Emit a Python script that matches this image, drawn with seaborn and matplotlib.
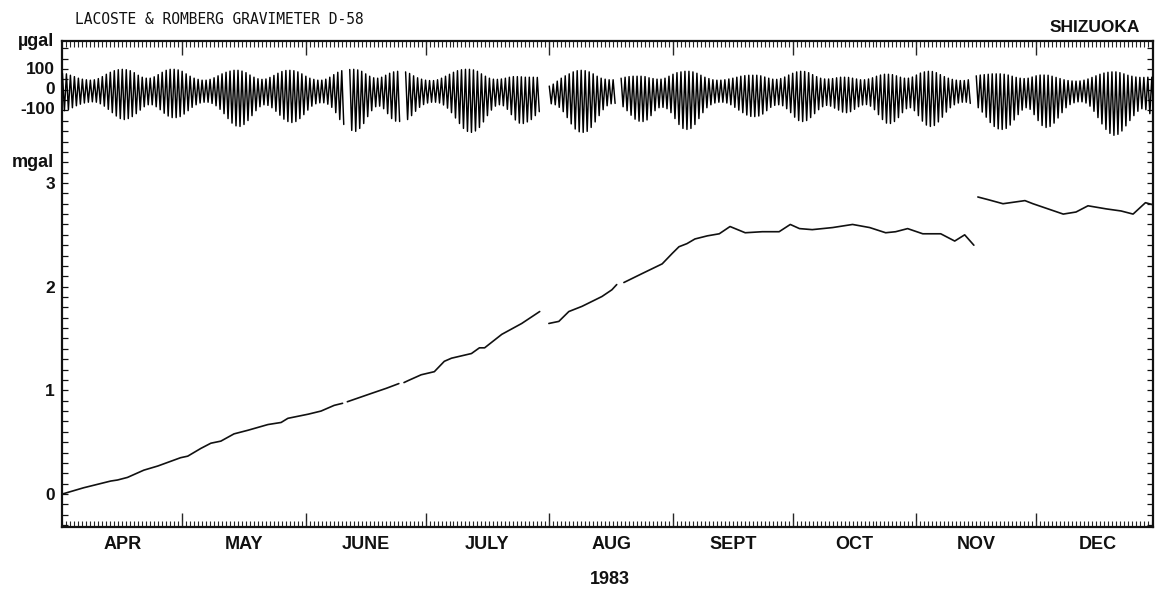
import numpy as np
import pandas as pd
import matplotlib
matplotlib.use("Agg")
import matplotlib.pyplot as plt
import matplotlib.transforms as mtransforms
import seaborn as sns

nan = np.nan

# months on the x axis (day 0 = 1 April 1983)
months = ["APR", "MAY", "JUNE", "JULY", "AUG", "SEPT", "OCT", "NOV", "DEC"]
month_len = [30, 31, 30, 31, 31, 30, 31, 30, 31]

# gravity drift curve (mgal), nan = break in the record
curve_day = [0, 5.3, 12.1, 13.8, 16.3, 20.4, 23.9, 29.6, 31.4, 34.7, 37.2, 39.7, 43.0, 46.5,
             51.5, 54.8, 56.5, 61.6, 64.8, 68.1, 70.2, nan, 71.4, 77.4, 81.2, 84.3, nan,
             85.6, 86.7, 89.9, 93.2, 95.7, 97.5, 102.5, 104.5, 105.8, 110.1, 115.1, 119.6, nan,
             121.9, 124.4, 126.9, 130.2, 135.2, 137.7, 138.9, nan,
             140.7, 145.2, 150.3, 152.8, 154.5, 156.5, 158.5, 161.6, 164.6, 167.3, 171.1, 175.4,
             179.6, 182.4, 184.7, 187.9, 193.0, 198.0, 202.3, 206.3, 208.8, 211.8, 215.6, 220.1,
             223.6, 226.1, 228.4, nan,
             229.4, 231.9, 235.7, 241.2, 243.2, 247.0, 250.8, 254.0, 257.0, 261.6, 265.3, 268.3,
             271.4, 273.3]
curve_mgal = [0.0, 0.06, 0.125, 0.135, 0.16, 0.23, 0.27, 0.35, 0.365, 0.44, 0.49, 0.51, 0.58, 0.615,
              0.67, 0.69, 0.73, 0.77, 0.80, 0.855, 0.875, nan, 0.89, 0.97, 1.02, 1.065, nan,
              1.075, 1.095, 1.15, 1.18, 1.28, 1.31, 1.355, 1.41, 1.41, 1.54, 1.645, 1.76, nan,
              1.645, 1.665, 1.76, 1.81, 1.905, 1.97, 2.02, nan,
              2.04, 2.125, 2.22, 2.32, 2.385, 2.415, 2.46, 2.49, 2.51, 2.58, 2.52, 2.53,
              2.53, 2.60, 2.56, 2.55, 2.57, 2.60, 2.57, 2.52, 2.53, 2.56, 2.51, 2.51,
              2.44, 2.50, 2.40, nan,
              2.865, 2.84, 2.80, 2.83, 2.80, 2.75, 2.70, 2.72, 2.78, 2.75, 2.73, 2.70,
              2.81, 2.79]

# daily tidal envelope (ugal), one value per day from 1 April
tide_upper = [75, 72, 65, 58, 50, 45, 42, 40, 42, 48,
              58, 70, 80, 88, 93, 95, 93, 88, 78, 65,
              55, 50, 50, 57, 68, 80, 90, 95, 95, 92,
              85, 72, 60, 50, 44, 40, 40, 44, 52, 62,
              72, 80, 86, 90, 90, 86, 78, 66, 55, 47,
              44, 46, 54, 64, 75, 84, 89, 90, 88, 82,
              72, 60, 50, 44, 40, 40, 45, 55, 68, 80,
              88, nan, 94, 95, 92, 85, 72, 60, 52, 50,
              55, 65, 75, 82, 85, nan, 82, 74, 62, 52,
              45, 40, 38, 38, 42, 50, 60, 70, 80, 88,
              93, 95, 95, 92, 85, 72, 60, 50, 45, 44,
              46, 50, 55, 58, 58, 57, 55, 55, 55, 54,
              nan, nan, 10, 20, 35, 50, 62, 72, 82, 88,
              90, 88, 82, 72, 60, 50, 45, 42, 42, nan,
              50, 55, 58, 60, 60, 60, 58, 52, 48, 45,
              45, 50, 60, 70, 78, 82, 85, 85, 82, 75,
              65, 55, 48, 42, 40, 40, 42, 46, 50, 55,
              60, 63, 65, 65, 65, 62, 56, 50, 45, 44,
              48, 56, 66, 75, 82, 85, 84, 78, 68, 58,
              50, 46, 46, 48, 52, 55, 55, 54, 50, 46,
              42, 42, 46, 52, 60, 66, 70, 70, 68, 62,
              55, 50, 50, 56, 66, 76, 82, 85, 84, 78,
              68, 58, 50, 44, 40, 38, 38, 42, nan, 62,
              66, 68, 70, 72, 72, 72, 70, 66, 60, 54,
              50, 48, 50, 56, 62, 66, 66, 65, 60, 54,
              48, 42, 38, 36, 35, 36, 40, 46, 54, 62,
              70, 76, 80, 82, 82, 78, 72, 65, 60, 56,
              54, 54, 55, 55]
tide_lower = [-115, -110, -100, -90, -82, -76, -72, -70, -72, -80,
              -92, -108, -125, -142, -155, -160, -155, -145, -130, -112,
              -95, -85, -85, -95, -110, -128, -142, -150, -150, -145,
              -132, -115, -98, -85, -76, -72, -72, -78, -90, -108,
              -130, -155, -178, -192, -195, -185, -165, -140, -115, -95,
              -85, -88, -100, -118, -138, -158, -170, -175, -170, -155,
              -135, -112, -92, -80, -75, -75, -82, -98, -125, -160,
              -185, nan, -215, -220, -205, -180, -145, -115, -95, -92,
              -105, -130, -155, -168, -170, nan, -160, -140, -118, -98,
              -84, -76, -72, -72, -76, -86, -102, -125, -152, -180,
              -205, -220, -225, -218, -200, -172, -140, -112, -92, -85,
              -90, -108, -135, -162, -178, -180, -172, -160, -140, -120,
              nan, nan, -80, -85, -98, -120, -150, -182, -208, -222,
              -225, -220, -200, -172, -140, -110, -90, -80, -78, nan,
              -95, -115, -138, -158, -168, -170, -162, -140, -115, -100,
              -98, -105, -125, -155, -185, -205, -210, -205, -185, -155,
              -125, -100, -85, -76, -72, -72, -76, -85, -98, -112,
              -125, -137, -144, -145, -142, -132, -115, -98, -88, -85,
              -90, -105, -125, -148, -165, -170, -165, -150, -130, -110,
              -95, -88, -92, -102, -112, -122, -125, -120, -108, -95,
              -86, -84, -92, -110, -135, -160, -178, -180, -170, -150,
              -125, -105, -100, -115, -140, -168, -188, -195, -190, -172,
              -148, -122, -100, -85, -76, -72, -72, -78, nan, -100,
              -122, -148, -175, -195, -207, -210, -205, -188, -162, -135,
              -112, -100, -108, -135, -165, -190, -200, -195, -178, -152,
              -125, -100, -84, -75, -70, -70, -76, -92, -118, -150,
              -182, -210, -230, -240, -235, -218, -192, -165, -140, -118,
              -105, -110, -130, -150]

sns.set_style("ticks")
plt.rcParams["font.family"] = ["Liberation Sans", "DejaVu Sans"]
ink = "#111111"

fig = plt.figure(figsize=(11.55, 5.97), dpi=100)
ax = fig.add_axes([0.0537, 0.1173, 0.9446, 0.8141])

# drift curve
curve = pd.DataFrame({"day": curve_day, "mgal": curve_mgal})
curve["seg"] = curve["day"].isna().cumsum()
curve = curve.dropna()
sns.lineplot(data=curve, x="day", y="mgal", units="seg", estimator=None, sort=False,
             color=ink, lw=1.2, ax=ax, legend=False)

# tide trace on its own ugal scale
ax2 = ax.twinx()
tide = pd.DataFrame({"day": np.arange(len(tide_upper)), "up": tide_upper, "low": tide_lower})
tide["seg"] = tide["up"].isna().cumsum()
tide = tide.dropna()
zig = pd.DataFrame({
    "t": np.column_stack([tide["day"], tide["day"] + 0.5]).ravel(),
    "ugal": np.column_stack([tide["up"], tide["low"]]).ravel(),
    "seg": np.repeat(tide["seg"].values, 2),
})
sns.lineplot(data=zig, x="t", y="ugal", units="seg", estimator=None, sort=False,
             color="black", lw=1.05, ax=ax2, legend=False)

ax.set_xlim(-0.1, 273.3)
ax.set_ylim(-0.318, 4.37)
ax2.set_ylim(-2228, 239)

bounds = np.cumsum([0] + month_len)
ax.set_xticks(bounds[1:-1])
ax.set_xticks(np.arange(0, 274), minor=True)
ax.tick_params(axis="x", which="major", direction="in", length=10, width=1,
               top=True, bottom=True, labelbottom=False)
ax.tick_params(axis="x", which="minor", direction="in", length=4, width=0.8,
               top=True, bottom=True)
ax.set_yticks([0, 1, 2, 3])
ax.set_yticks(np.arange(-0.3, 4.35, 0.1), minor=True)
ax.tick_params(axis="y", which="both", direction="in", length=4, width=0.9,
               left=True, right=True, labelsize=12.5, pad=5, colors=ink)
for lbl in ax.get_yticklabels():
    lbl.set_fontweight("bold")
ax.set_xlabel("")
ax.set_ylabel("")
for s in ax.spines.values():
    s.set_visible(True)
    s.set_linewidth(1.6)
    s.set_color(ink)

ax2.set_yticks([100, 0, -100], labels=["100", "0", "-100"])
ax2.tick_params(axis="y", left=True, right=False, labelleft=True, labelright=False,
                length=0, pad=5, labelsize=12.5, colors=ink)
for lbl in ax2.get_yticklabels():
    lbl.set_fontweight("bold")
ax2.set_ylabel("")
for s in ax2.spines.values():
    s.set_visible(False)

trans = mtransforms.blended_transform_factory(ax.transData, ax.transAxes)
centers = bounds[:-1] + np.array(month_len) / 2
for c, name in zip(centers, months):
    ax.text(c, -0.037, name, transform=trans, ha="center", va="center",
            fontsize=13, fontweight="bold", color=ink)

fig.text(610 / 1155, 1 - 580 / 597, "1983", ha="center", va="center",
         fontsize=13, fontweight="bold", color=ink)
fig.text(75 / 1155, 1 - 19 / 597, "LACOSTE & ROMBERG GRAVIMETER D-58", ha="left", va="center",
         fontsize=10.5, family="DejaVu Sans Mono", color=ink)
fig.text(1140 / 1155, 1 - 27 / 597, "SHIZUOKA", ha="right", va="center",
         fontsize=12.5, fontweight="bold", color=ink)
fig.text(54 / 1155, 1 - 42 / 597, "\u00b5gal", ha="right", va="center",
         fontsize=13, fontweight="bold", color=ink)
fig.text(54 / 1155, 1 - 162 / 597, "mgal", ha="right", va="center",
         fontsize=13, fontweight="bold", color=ink)

fig.savefig("out.png", dpi=100)
